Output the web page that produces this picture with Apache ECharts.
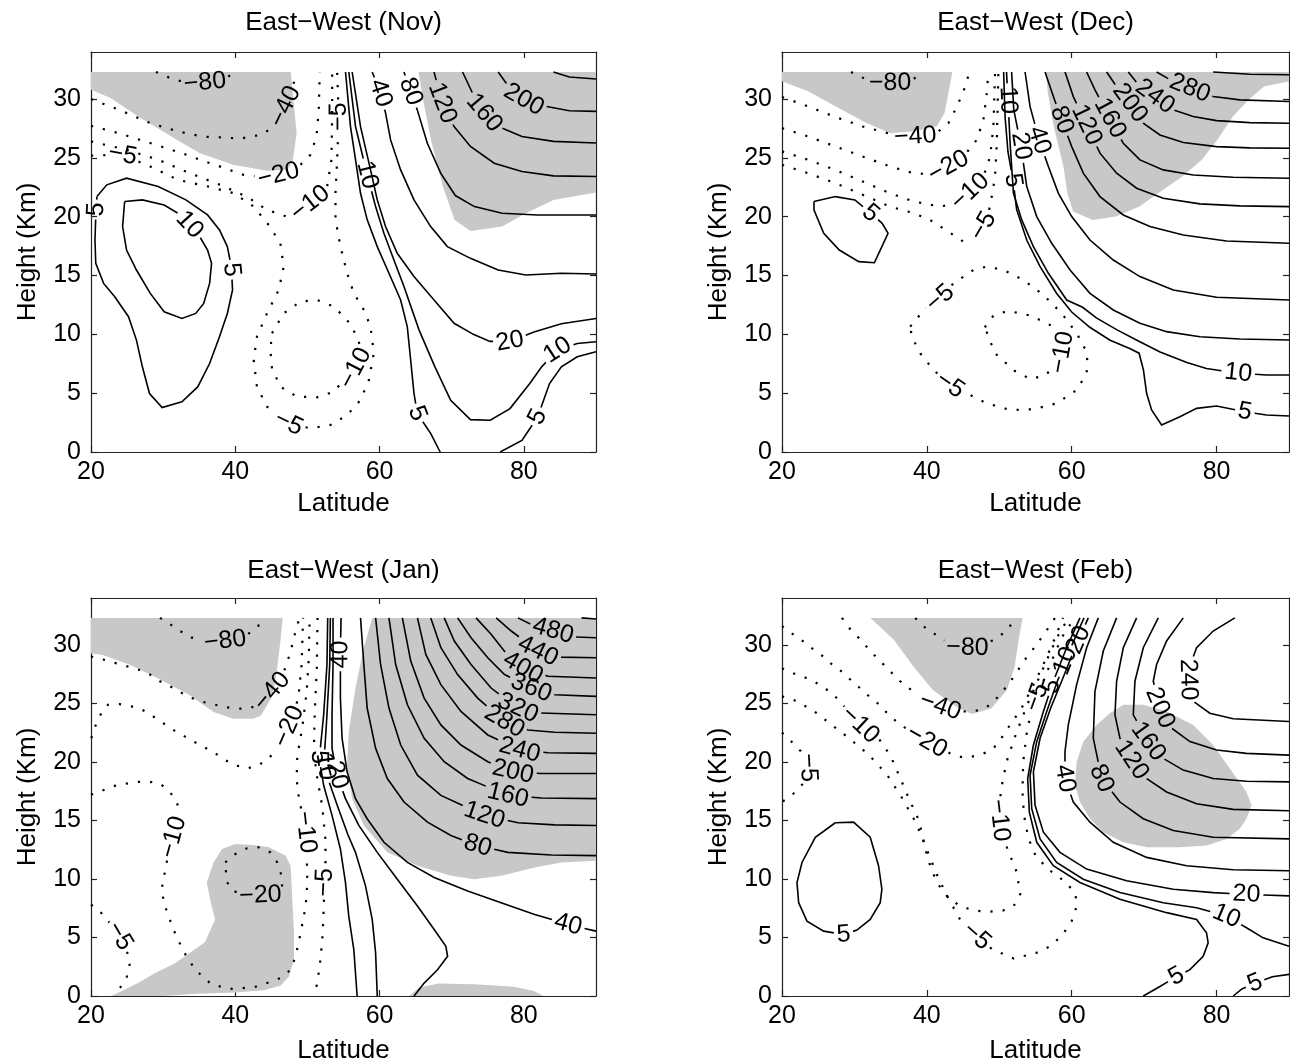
<!DOCTYPE html>
<html lang="en">
<head>
    <meta charset="UTF-8">
    <title>East-West wind</title>
    <script src="https://cdn.jsdelivr.net/npm/echarts@6/dist/echarts.min.js"></script>
    <style>
        body { margin: 0; background: #fff; }
    </style>
</head>
<body>
<div id="main" style="width: 1290px;height:1064px;"></div>
<script>
    // ---- axes ----
    const latTicks = [20, 40, 60, 80];
    const heightTicks = [0, 5, 10, 15, 20, 25, 30];
    const titles = ['East−West (Nov)', 'East−West (Dec)', 'East−West (Jan)', 'East−West (Feb)'];

    // ---- November ----
    const novShade = [
        [[20,32.3],[47.7,32.3],[48.05,29.95],[48.5,27.1],[48.05,25.1],[47.9,24.6],[47.2,24.0],[44.4,23.9],[39.8,24.4],[35.1,25.4],[32.0,26.5],[26.6,28.5],[22.7,30.1],[20,30.8]],
        [[65.4,32.3],[90,32.3],[90,22.05],[84.1,21.43],[80.27,20.3],[76.99,19.16],[72.6,18.79],[70.4,19.73],[68.77,22.57],[67.12,26.54],[66.03,29.95]]
    ];
    const novLevels = [5, 10, 5, 10, 20, 40, 80, 120, 160, 200, 240, 5, -80, -40, -20, -10, -5, -10];
    const novLines = [
        [[20.82,21.71],[22.19,22.71],[24.93,23.28],[29.32,22.57],[33.15,21.43],[36.16,20.15],[37.81,18.88],[38.9,17.46],[39.45,15.75],[39.62,13.77],[38.9,11.78],[37.81,9.79],[36.44,7.52],[34.79,5.53],[32.6,4.26],[29.86,3.78],[28.11,4.97],[27.12,7.24],[26.3,9.51],[25.2,11.5],[23.29,13.2],[21.75,14.33],[20.66,16.04],[20.55,18.02],[20.66,20.01],[20.82,21.71]],
        [[24.66,21.29],[27.12,21.43],[30.14,21.0],[32.05,20.3],[34.79,18.59],[36.16,17.17],[36.71,16.04],[36.44,14.33],[35.62,12.63],[34.52,11.78],[32.6,11.35],[30.14,11.92],[28.22,13.48],[26.3,15.47],[24.93,17.17],[24.38,19.16],[24.66,21.29]],
        [[55.28,32.3],[55.97,27.66],[56.67,24.83],[57.36,21.99],[58.29,19.73],[59.68,17.46],[61.3,15.19],[62.92,12.92],[63.84,10.66],[64.31,7.82],[64.77,4.99],[65.23,3.28],[67.08,1.58],[68.4,0]],
        [[55.74,32.3],[56.67,27.66],[58.29,23.55],[59.45,20.86],[60.6,18.59],[61.99,16.32],[63.38,14.06],[65.48,10.36],[67.67,7.24],[69.86,4.4],[72.6,2.75],[75.34,2.7],[78.08,3.69],[80.82,5.82],[82.47,7.24],[84.66,8.66],[87.4,9.22],[90,9.37]],
        [[56.2,32.3],[57.36,27.66],[58.75,23.98],[59.68,21.43],[60.83,19.16],[62.45,16.89],[64.77,14.91],[67.55,12.92],[70.33,10.94],[73.0,10.0],[75.3,9.4],[78.1,9.4],[81.4,10.2],[85.2,10.9],[90,11.35]],
        [[58.98,32.3],[60.14,30.5],[60.83,28.8],[61.53,26.53],[62.92,23.98],[64.77,21.43],[67.08,19.16],[69.4,17.46],[72.6,16.46],[76.44,15.47],[80.27,15.04],[85.2,15.19],[90,15.13]],
        [[63.38,32.3],[64.31,30.64],[65.23,29.08],[66.62,26.24],[68.47,23.7],[70.5,21.8],[73.15,20.86],[76.99,20.3],[81.92,20.15],[90,20.15]],
        [[67.55,32.3],[68.7,29.65],[70.33,27.66],[72.6,25.97],[75.89,24.55],[79.73,23.84],[84.1,23.47],[90,23.42]],
        [[71.5,32.3],[72.88,30.51],[74.52,28.81],[76.44,27.68],[79.73,26.82],[84.1,26.4],[90,26.26]],
        [[76.44,32.3],[77.53,31.37],[80.0,29.95],[83.0,29.38],[86.3,29.0],[90,28.95]],
        [[84.1,32.3],[86.3,31.88],[90,31.7]],
        [[76.71,0],[79.73,0.99],[81.92,2.98],[83.56,5.82],[85.2,7.24],[87.4,8.09],[90,8.52]],
        [[29.0,32.3],[31.5,31.65],[33.5,31.4],[35.8,31.4],[38.0,31.6],[40.27,32.3]],
        [[20,30.0],[23.84,29.1],[28.2,27.96],[32.05,27.25],[35.5,26.8],[37.92,26.75],[40.7,26.64],[43.47,26.95],[45.09,27.52],[46.2,28.4],[46.95,29.36],[47.87,30.78],[48.47,32.3]],
        [[20,27.73],[23.84,27.1],[28.2,26.26],[32.6,25.4],[35.3,24.8],[37.92,24.26],[41.16,23.55],[43.5,23.4],[46.0,23.55],[49.0,24.4],[50.4,25.25],[51.25,26.8],[51.57,29.08],[51.71,32.3]],
        [[20,26.4],[24.93,25.69],[29.32,24.84],[33.7,23.7],[37.92,22.7],[41.62,21.7],[44.4,20.58],[47.18,20.0],[49.0,20.4],[50.4,21.14],[51.8,21.9],[52.73,22.56],[53.33,24.83],[53.43,29.08],[53.43,32.3]],
        [[20,25.2],[24.38,25.26],[28.2,24.27],[32.05,23.13],[36.0,22.6],[39.77,22.0],[42.55,20.86],[44.63,19.3],[46.25,17.74],[46.71,15.76],[46.02,13.77],[44.4,11.79],[43.0,9.8],[42.55,7.82],[43.0,5.55],[44.4,3.85],[47.41,2.44],[50.42,2.01],[53.2,2.3],[55.51,3.14],[57.36,4.42],[58.52,6.12],[59.2,8.38],[58.75,10.66],[57.83,12.07],[56.44,13.49],[55.51,15.19],[54.58,17.46],[53.89,19.73],[53.89,21.99],[54.12,24.83],[54.35,28.51],[54.12,32.3]],
        [[45.09,10.09],[46.71,11.79],[49.03,12.78],[51.34,12.92],[53.66,12.36],[55.51,11.22],[56.9,9.8],[57.59,8.39],[56.5,6.9],[55.05,6.12],[53.66,5.13],[51.34,4.65],[48.57,4.7],[46.25,5.55],[45.09,7.11],[44.86,8.67],[45.09,10.09]]
    ];
    const novLabels = [
        ['−80',35.8,31.4],['−40',46.95,29.36],['−20',46.0,23.55],['−10',50.4,21.14],['−5',54.35,28.5],['−5',24.38,25.26],
        ['−5',47.41,2.44],['−10',56.4,7.2],['5',21.0,20.6],['5',39.6,15.5],['10',33.42,19.16],['10',58.29,23.55],['5',65.23,3.28],
        ['40',60.14,30.5],['80',64.31,30.64],['120',68.7,29.65],['160',74.52,28.81],['200',80.0,29.95],
        ['20',78.08,9.45],['10',84.66,8.66],['5',81.92,2.98]
    ];

    // ---- December ----
    const decShade = [
        [[20,32.3],[43.52,32.3],[42.98,30.51],[42.44,28.81],[41.37,27.68],[38.14,27.25],[34.9,27.11],[31.68,27.96],[27.37,29.38],[23.6,30.66],[20,31.51]],
        [[56.44,32.3],[90,32.3],[90,31.5],[86.58,31.08],[84.42,29.95],[82.27,28.53],[80.12,26.54],[77.97,24.84],[75.27,23.42],[72.58,22.28],[69.35,20.86],[66.12,20.01],[62.9,19.73],[60.2,20.44],[59.4,22.0],[58.86,24.27],[57.51,27.68],[56.71,30.51]]
    ];
    const decLevels = [5, 5, 10, 20, 40, 80, 120, 160, 200, 240, 280, 320, -80, -40, -20, -10, -5, -5, -10];
    const decLines = [
        [[24.41,21.29],[27.37,21.71],[30.06,21.43],[32.22,20.3],[33.83,19.44],[34.64,18.59],[32.76,16.09],[30.6,16.18],[27.91,17.17],[25.76,18.59],[24.41,20.58],[24.41,21.29]],
        [[50.6,32.3],[50.8,28.5],[51.2,25.5],[51.9,23.1],[52.4,20.6],[53.8,18.0],[55.6,15.8],[57.9,13.5],[60.0,11.9],[62.5,10.6],[65.3,9.5],[68.0,8.8],[69.3,8.4],[69.9,6.97],[70.34,4.99],[71.03,3.57],[72.41,2.3],[74.94,3.0],[77.24,3.71],[80.0,3.91],[83.9,3.43],[86.89,3.14],[90,3.06]],
        [[51.0,32.3],[51.2,29.9],[51.5,26.2],[51.95,22.0],[53.1,19.73],[54.71,17.46],[56.78,15.19],[59.31,12.92],[61.5,12.3],[63.4,11.4],[66.2,10.4],[69.0,9.5],[72.2,8.5],[75.9,7.6],[78.6,7.1],[83.0,6.7],[86.9,6.55],[90,6.55]],
        [[51.7,32.3],[52.0,29.1],[53.0,26.0],[53.79,22.56],[55.17,20.01],[57.24,17.74],[59.77,15.47],[62.52,13.49],[65.74,12.07],[69.42,10.94],[73.1,10.23],[77.7,9.8],[83.21,9.61],[90,9.52]],
        [[53.56,32.3],[54.25,29.36],[55.5,26.53],[56.78,24.26],[58.16,21.99],[60.0,20.01],[62.52,18.02],[65.74,16.32],[69.42,14.91],[74.02,13.77],[80.0,13.15],[90,12.92]],
        [[56.32,32.3],[57.47,30.21],[58.62,28.23],[60.0,25.96],[61.6,23.7],[63.9,21.71],[67.12,20.15],[70.8,19.16],[75.4,18.45],[81.37,17.94],[90,17.74]],
        [[59.08,32.3],[60.22,30.21],[62.06,27.8],[63.9,25.4],[66.2,23.7],[68.96,22.42],[72.64,21.57],[77.7,21.09],[83.21,20.92],[90,20.86]],
        [[62.06,32.3],[63.21,30.78],[65.28,28.37],[67.12,26.24],[69.42,24.83],[72.64,23.98],[76.78,23.55],[82.29,23.35],[90,23.27]],
        [[64.82,32.3],[66.2,31.06],[68.04,29.65],[69.88,27.95],[72.18,26.95],[75.4,26.3],[80.0,25.96],[84.59,25.85],[90,25.82]],
        [[67.81,32.3],[69.42,31.06],[71.49,30.21],[74.02,29.08],[76.78,28.51],[79.99,28.17],[84.59,28.0],[90,27.95]],
        [[71.72,32.3],[74.0,31.5],[76.32,30.92],[79.53,30.21],[83.21,29.93],[90,29.79]],
        [[79.53,32.3],[84.6,32.11],[90,32.06]],
        [[29.53,32.3],[31.68,31.65],[34.91,31.37],[38.14,31.7],[39.48,32.3]],
        [[20,30.17],[23.6,29.38],[27.37,28.47],[31.14,27.67],[34.91,27.05],[38.41,26.82],[41.5,27.2],[42.98,27.96],[44.17,29.38],[45.13,30.8],[45.9,32.3]],
        [[20,27.53],[23.6,26.82],[27.37,25.97],[31.14,25.12],[34.91,24.27],[38.14,23.7],[40.8,23.6],[43.0,24.26],[45.05,25.11],[46.89,26.53],[47.81,28.23],[48.27,30.5],[48.5,32.3]],
        [[20,25.55],[23.6,24.84],[27.37,23.98],[31.14,22.99],[34.91,22.0],[38.15,21.3],[41.84,20.86],[44.13,21.14],[45.97,22.13],[47.81,23.41],[48.73,25.11],[49.19,27.66],[49.42,32.3]],
        [[20,24.41],[23.6,23.7],[27.37,22.85],[31.14,21.86],[34.91,20.86],[38.2,20.3],[40.5,19.7],[42.8,18.8],[45.0,17.9],[46.6,18.2],[47.8,19.2],[48.73,20.86],[49.42,23.41],[49.65,26.24],[49.88,32.3]],
        [[37.7,10.66],[40.0,12.36],[41.84,13.07],[43.67,14.34],[46.43,15.47],[48.27,15.76],[50.57,15.47],[53.33,14.62],[56.09,13.35],[58.62,11.79],[60.69,10.09],[62.16,8.39],[62.07,6.69],[60.69,5.27],[57.93,4.14],[54.71,3.63],[51.49,3.57],[48.27,4.14],[45.51,4.99],[43.22,5.69],[40.92,6.97],[39.08,8.39],[37.93,9.8],[37.7,10.66]],
        [[48.0,10.6],[49.2,11.6],[51.2,12.0],[54.3,11.6],[57.0,10.8],[58.7,9.8],[58.8,8.6],[58.0,7.5],[56.3,6.5],[54.3,6.2],[52.1,6.9],[49.4,8.4],[48.0,10.6]]
    ];
    const decLabels = [
        ['−80',34.91,31.37],['−40',38.4,26.82],['−20',43.0,24.26],['−10',45.97,22.13],['−5',47.8,19.2],['5',32.22,20.3],
        ['−5',41.84,13.07],['−5',43.22,5.69],['−10',58.6,8.5],['10',51.2,29.9],['20',53.0,26.0],['40',55.5,26.5],['5',51.9,23.1],
        ['80',58.62,28.23],['120',62.06,27.8],['160',65.28,28.37],['200',68.04,29.65],['240',71.49,30.21],['280',76.32,30.92],
        ['10',82.98,6.69],['5',83.9,3.43]
    ];

    // ---- January ----
    const janShade = [
        [[20,32.3],[46.58,32.3],[46.3,30.58],[45.75,27.71],[45.2,25.7],[43.56,23.97],[42.47,23.69],[39.73,23.69],[36.99,24.26],[33.7,25.7],[29.32,27.13],[25.48,28.28],[21.64,29.14],[20,29.29]],
        [[58.98,32.3],[90,32.3],[90,11.56],[85.21,11.41],[81.5,10.98],[76.86,10.27],[73.14,9.98],[69.89,10.27],[65.25,11.13],[61.07,12.27],[57.82,14.57],[56.2,16.86],[55.5,19.72],[55.73,22.59],[56.66,26.31],[57.82,29.75]],
        [[22.74,0],[24.2,0.4],[26.5,1.1],[28.9,1.96],[31.65,2.8],[33.5,3.6],[35.8,4.6],[37.2,6.54],[36.5,8.26],[36.06,9.69],[36.99,11.41],[38.15,12.56],[40.0,12.99],[42.5,12.9],[44.65,12.7],[46.97,11.99],[47.67,11.13],[47.9,8.26],[48.13,5.4],[48.13,3.1],[47.44,1.67],[46.3,0.9],[44.0,0.5],[40.0,0.3],[35,0.2],[30,0]],
        [[64.11,0],[65.48,0.72],[68.22,1.06],[73.15,1.0],[78.63,0.78],[81.37,0.43],[82.74,0]]
    ];
    const janLevels = [5, 10, 20, 40, 80, 120, 160, 200, 240, 280, 320, 360, 400, 440, 480, 520, -80, -40, -20, -10, -5, -5, -20];
    const janLines = [
        [[52.81,32.3],[52.71,28.32],[52.25,24.02],[51.79,21.16],[51.6,20.4],[52.25,18.0],[53.41,15.43],[54.57,12.56],[55.27,9.7],[55.73,6.83],[56.43,3.96],[56.89,0]],
        [[53.18,32.3],[53.09,28.32],[52.71,24.02],[52.4,21.0],[52.34,20.0],[53.0,18.3],[54.3,16.0],[55.6,13.8],[56.66,12.27],[58.05,9.41],[58.98,6.54],[59.45,3.68],[59.68,0]],
        [[53.55,32.3],[53.55,28.32],[53.41,24.02],[53.41,21.16],[54.1,18.86],[55.27,16.86],[57.12,14.57],[59.68,12.27],[62.46,9.98],[65.25,7.69],[67.57,5.68],[69.19,4.25],[69.43,3.39],[68.03,2.24],[66.18,1.1],[64.78,0]],
        [[54.66,32.3],[54.57,29.18],[54.57,25.45],[54.8,22.02],[55.5,19.15],[56.66,16.86],[58.28,15.14],[60.61,13.13],[63.86,11.41],[67.57,10.12],[72.21,8.98],[76.85,7.97],[81.5,6.97],[86.14,6.11],[90,5.54]],
        [[57.36,32.3],[57.82,28.32],[58.28,24.6],[59.45,21.16],[61.07,18.58],[63.39,16.57],[66.64,14.85],[69.89,13.71],[73.6,12.85],[77.78,12.27],[83.82,12.04],[90,11.99]],
        [[59.45,32.3],[60.14,28.32],[61.3,24.6],[62.93,21.44],[65.25,18.86],[68.5,17.14],[74.53,15.43],[79.18,14.8],[84.28,14.62],[90,14.57]],
        [[61.3,32.3],[62.23,28.32],[63.86,24.88],[66.18,22.02],[68.96,20.01],[72.21,18.58],[77.78,17.14],[82.43,16.91],[90,16.86]],
        [[63.16,32.3],[64.32,28.61],[66.18,25.45],[68.5,23.16],[71.28,21.44],[75.0,20.01],[78.48,19.15],[82.43,19.01],[90,19.01]],
        [[65.25,32.3],[66.41,29.18],[68.5,26.6],[71.28,24.31],[75.0,22.3],[79.41,21.01],[83.35,20.78],[90,20.73]],
        [[67.1,32.3],[68.5,29.75],[70.82,27.46],[73.6,25.45],[77.32,23.45],[80.57,22.73],[84.28,22.53],[90,22.45]],
        [[68.96,32.3],[70.36,30.32],[72.68,28.32],[75.46,26.31],[79.18,24.6],[82.43,24.17],[90,24.02]],
        [[70.82,32.3],[72.68,30.61],[75.0,28.89],[77.32,27.46],[81.03,26.31],[84.28,25.74],[90,25.6]],
        [[73.37,32.3],[75.46,30.9],[77.5,29.3],[79.87,28.03],[83.35,27.32],[90,27.17]],
        [[76.16,32.3],[78.25,31.18],[81.96,29.47],[85.21,28.95],[90,28.89]],
        [[79.18,32.3],[81.5,31.6],[84.05,31.19],[87.07,30.67],[90,30.61]],
        [[88.0,32.3],[90,32.2]],
        [[29.56,32.3],[30.95,31.76],[32.35,31.18],[33.97,30.61],[36.0,30.35],[38.61,30.33],[41.4,30.76],[43.02,31.47],[43.95,32.3]],
        [[20,29.0],[21.67,28.75],[23.29,28.46],[24.92,28.18],[26.54,27.89],[28.17,27.46],[29.56,26.89],[30.95,26.46],[32.58,25.88],[33.97,25.45],[35.6,25.11],[37.22,24.88],[38.85,24.65],[40.47,24.54],[42.1,24.6],[43.8,25.1],[45.11,26.03],[46.97,28.03],[47.67,29.47],[48.36,31.18],[48.9,32.3]],
        [[20.04,22.02],[20.74,23.3],[21.67,24.45],[22.37,24.88],[23.99,24.94],[25.62,24.74],[27.24,24.4],[28.63,23.88],[30.03,23.3],[31.42,22.73],[33.04,22.16],[34.44,21.67],[35.83,21.21],[37.22,20.73],[38.61,20.15],[40.01,19.72],[41.63,19.44],[43.26,19.72],[44.65,20.3],[46.2,21.5],[47.44,23.02],[48.74,25.45],[49.2,28.32],[49.4,32.3]],
        [[20,17.2],[21.67,17.57],[23.29,17.95],[24.92,18.15],[26.54,18.29],[28.17,18.29],[29.56,18.15],[30.95,17.43],[31.88,16.57],[32.35,15.57],[31.42,13.56],[30.49,11.41],[29.79,9.12],[30.17,7.83],[31.42,5.68],[32.81,3.82],[34.44,2.24],[36.76,0.96],[39.77,0.58],[43.02,0.81],[46.27,1.53],[47.67,2.24],[48.36,3.39],[49.06,5.4],[49.76,7.69],[49.99,9.69],[49.9,12.0],[49.76,13.99],[49.3,15.5],[48.83,16.86],[48.5,18.5],[48.6,20.5],[49.3,23.0],[49.9,26.0],[50.2,29.0],[50.3,32.3]],
        [[51.4,32.3],[51.3,28.0],[51.0,24.0],[50.9,21.0],[51.23,19.09],[52.05,16.22],[52.5,13.35],[52.5,11.0],[52.33,9.04],[52.2,6.5],[52.05,4.74],[51.7,2.5],[51.23,0.72],[51.1,0]],
        [[20,7.8],[21.2,7.26],[22.37,6.4],[23.99,5.11],[25.15,3.53],[25.38,2.53],[24.92,1.53],[23.99,0.67],[23.53,0]],
        [[38.61,11.41],[40.01,12.13],[41.63,12.62],[43.26,12.7],[44.88,12.27],[45.81,11.41],[46.41,10.27],[46.5,9.2],[45.8,8.5],[43.5,8.6],[41.0,8.7],[39.6,9.0],[38.8,9.8],[38.61,11.41]]
    ];
    const janLabels = [
        ['−80',38.61,30.33],['−40',45.11,26.03],['−20',47.44,23.02],['−10',31.42,13.56],['−10',49.76,13.99],['−5',52.5,9.7],
        ['−20',43.49,8.6],['−5',23.99,5.11],['5',51.6,20.4],['10',52.3,19.6],['20',54.1,18.86],['40',54.57,29.18],['40',86.14,6.11],
        ['80',73.6,12.85],['120',74.53,15.43],['160',77.78,17.14],['200',78.48,19.15],['240',79.41,21.01],['280',77.32,23.45],
        ['320',79.18,24.6],['360',81.03,26.31],['400',79.87,28.03],['440',81.96,29.47],['480',84.05,31.19]
    ];

    // ---- February ----
    const febShade = [
        [[32.22,32.3],[53.21,32.3],[52.67,30.43],[52.13,28.14],[51.06,26.14],[48.9,24.57],[46.21,24.09],[44.06,24.71],[40.83,26.14],[38.14,28.14],[35.45,30.43]],
        [[67.12,24.88],[69.88,24.88],[73.1,24.31],[76.78,23.16],[79.53,21.44],[81.83,19.44],[84.13,17.43],[84.82,16.29],[84.13,15.14],[83.21,14.28],[81.37,13.42],[78.61,12.85],[74.94,12.7],[70.34,12.7],[67.12,13.13],[64.36,13.99],[62.52,15.14],[61.14,16.57],[60.45,18.0],[60.68,20.01],[61.6,21.73],[63.44,23.16],[65.28,24.16]]
    ];
    const febLevels = [5, 5, 10, 20, 40, 80, 120, 160, 200, 240, 5, -80, -40, -20, -10, -5, -5];
    const febLines = [
        [[27.36,14.8],[29.88,14.85],[32.18,13.56],[33.33,11.13],[33.79,9.12],[33.56,7.97],[32.18,6.54],[30.34,5.63],[28.51,5.25],[25.75,5.54],[23.45,6.4],[22.3,7.97],[22.07,9.69],[22.76,11.41],[24.6,13.56],[27.36,14.8]],
        [[61.14,32.3],[59.3,29.75],[57.46,26.89],[56.09,24.31],[54.71,21.44],[53.92,18.58],[54.15,15.71],[55.17,13.13],[57.46,11.13],[61.14,9.7],[66.66,8.26],[73.1,7.12],[77.24,6.54],[78.61,5.4],[78.84,4.54],[78.15,3.39],[76.32,2.25],[74.48,1.67],[72.18,0.81],[69.88,0]],
        [[61.7,32.3],[59.86,29.75],[58.02,26.89],[56.55,24.31],[55.17,21.73],[54.25,18.86],[54.48,16.0],[55.63,13.42],[57.92,11.41],[61.6,9.98],[66.66,8.84],[72.64,7.97],[77.24,7.54],[81.37,6.83],[84.13,5.83],[86.43,4.97],[90,4.25]],
        [[62.29,32.3],[60.45,29.75],[58.61,26.89],[57.1,24.6],[55.63,22.02],[54.71,19.15],[54.94,16.29],[56.09,13.99],[58.38,12.27],[62.06,10.84],[67.58,9.84],[74.02,9.12],[79.53,8.83],[84.13,8.69],[90,8.55]],
        [[63.67,32.3],[62.06,29.75],[60.68,26.6],[59.53,23.16],[59.07,20.87],[59.07,18.58],[60.22,16.57],[62.52,14.85],[65.74,13.13],[70.34,11.84],[75.86,11.13],[82.29,10.78],[90,10.7]],
        [[66.2,32.3],[64.36,29.47],[63.21,26.03],[62.98,22.02],[64.13,18.58],[66.66,16.57],[69.88,15.14],[74.02,14.14],[79.53,13.56],[90,13.42]],
        [[68.96,32.3],[67.12,29.75],[66.2,26.89],[65.97,24.02],[66.66,22.02],[68.27,20.15],[70.34,18.58],[73.1,17.43],[77.24,16.43],[82.29,15.94],[90,15.83]],
        [[71.95,32.3],[69.88,29.75],[68.73,26.89],[68.5,24.02],[70.57,21.73],[72.64,20.3],[75.4,19.3],[79.53,18.58],[84.13,18.35],[90,18.29]],
        [[75.4,32.3],[73.1,30.33],[71.72,28.32],[71.26,26.89],[72.18,24.6],[73.79,22.88],[76.32,21.73],[80.0,21.01],[84.13,20.73],[90,20.58]],
        [[82.52,32.3],[79.53,31.18],[77.24,29.75],[76.2,28.0],[76.09,27.03],[76.4,25.9],[76.78,25.17],[79.07,24.16],[82.29,23.68],[90,23.45]],
        [[82.3,0],[83.5,0.6],[85.3,1.1],[87.7,1.65],[90,1.85]],
        [[38.4,32.3],[39.5,31.6],[40.9,31.0],[42.4,30.4],[45.6,29.75],[49.3,30.4],[51.0,31.2],[52.3,32.3]],
        [[28.28,32.3],[29.42,31.33],[30.57,30.61],[31.72,29.81],[32.87,29.04],[34.02,28.32],[35.17,27.6],[36.32,26.89],[37.47,26.31],[39.5,25.4],[41.84,24.74],[44.0,24.3],[45.98,24.31],[47.59,24.45],[48.74,24.88],[50.11,25.74],[51.8,27.1],[53.5,28.7],[55.0,29.9],[56.5,31.2],[57.7,32.3]],
        [[20,31.6],[21.84,30.75],[23.22,30.18],[24.6,29.47],[25.98,28.89],[27.13,28.18],[28.51,27.6],[29.66,26.89],[31.03,26.17],[32.18,25.51],[33.56,24.83],[34.71,24.02],[36.09,23.3],[38.0,22.5],[40.0,21.73],[43.68,20.58],[45.29,20.35],[46.9,20.53],[48.51,20.87],[49.66,21.44],[50.57,22.3],[51.49,23.16],[53.0,24.5],[54.5,26.3],[56.0,28.2],[57.5,30.3],[58.8,32.3]],
        [[20,28.0],[21.38,27.6],[22.99,27.26],[24.37,26.89],[25.75,26.37],[27.13,25.74],[28.8,24.6],[30.8,23.16],[33.33,22.02],[35.0,20.5],[36.4,18.5],[37.7,16.6],[38.62,15.43],[39.31,13.99],[39.77,12.56],[40.46,11.13],[41.38,9.69],[42.76,8.55],[44.5,7.7],[46.5,7.3],[48.5,7.2],[50.5,7.3],[52.0,7.7],[52.9,8.7],[52.4,10.6],[51.1,12.6],[50.0,15.0],[50.2,17.5],[51.0,20.0],[52.2,22.2],[53.8,24.8],[55.5,27.2],[57.2,29.6],[58.6,31.4],[59.7,32.3]],
        [[20,25.6],[22.0,25.2],[24.5,24.3],[27.0,23.1],[29.5,21.9],[32.0,20.6],[34.5,18.9],[36.5,17.0],[38.5,14.8],[40.0,12.5],[41.5,10.2],[43.0,8.3],[44.8,6.3],[46.9,5.1],[49.0,4.0],[52.0,3.2],[55.2,3.7],[57.2,4.3],[58.8,5.3],[60.0,6.4],[60.7,7.7],[60.5,8.8],[59.0,9.8],[56.8,10.8],[55.0,12.0],[54.0,13.5],[53.4,15.5],[53.2,17.5],[53.3,20.0],[53.9,23.0],[55.0,25.2],[56.8,28.0],[58.6,30.6],[60.4,32.3]],
        [[20,22.5],[21.2,21.8],[22.6,20.9],[23.6,19.5],[23.0,18.2],[21.8,17.4],[20.6,16.8],[20,16.6]]
    ];
    const febLabels = [
        ['−80',45.6,29.75],['−40',41.84,24.74],['−20',40.0,21.73],['−10',30.8,23.16],['−10',50.0,15.0],['−5',23.6,19.5],
        ['−5',46.9,5.1],['−5',55.3,25.5],['5',28.51,5.25],['5',57.0,26.5],['10',58.6,28.75],['20',60.68,30.47],
        ['40',59.07,18.58],['80',64.13,18.58],['120',68.27,20.15],['160',70.57,21.73],['200',72.18,24.6],['240',76.09,27.03],
        ['20',84.13,8.69],['10',81.37,6.83],['5',74.48,1.67],['5',85.3,1.1]
    ];

    // ---- layout / style ----
    const FONT = 'Liberation Sans';
    const SHADE = '#c8c8c8';
    const boxes = [[91, 52, 505, 400], [782, 52, 507, 400], [91, 598, 505, 398], [782, 598, 507, 398]];
    const titleTop = [10, 10, 558, 558];
    const nameGapX = [39, 39, 42, 42];

    const measureCtx = document.createElement('canvas').getContext('2d');
    measureCtx.font = '25px "' + FONT + '"';

    function cumLen(pl) {
        const c = [0];
        for (let i = 1; i < pl.length; i++) {
            c.push(c[i - 1] + Math.hypot(pl[i][0] - pl[i - 1][0], pl[i][1] - pl[i - 1][1]));
        }
        return c;
    }

    function pointAt(pl, c, s) {
        const L = c[c.length - 1];
        if (s <= 0) return pl[0].slice();
        if (s >= L) return pl[pl.length - 1].slice();
        let i = 1;
        while (c[i] < s) i++;
        const t = (s - c[i - 1]) / ((c[i] - c[i - 1]) || 1);
        return [pl[i - 1][0] + t * (pl[i][0] - pl[i - 1][0]), pl[i - 1][1] + t * (pl[i][1] - pl[i - 1][1])];
    }

    function pieces(pl, c, gaps) {
        const L = c[c.length - 1];
        gaps.sort((a, b) => a[0] - b[0]);
        const keep = [];
        let s = 0;
        gaps.forEach(g => {
            if (g[0] > s) keep.push([s, g[0]]);
            s = Math.max(s, g[1]);
        });
        if (s < L) keep.push([s, L]);
        return keep.map(([a, b]) => {
            const pts = [pointAt(pl, c, a)];
            for (let i = 0; i < pl.length; i++) {
                if (c[i] > a && c[i] < b) pts.push(pl[i]);
            }
            pts.push(pointAt(pl, c, b));
            return pts;
        });
    }

    function contourSeries(idx, shade, lines, levels, labels) {
        return {
            type: 'custom',
            xAxisIndex: idx * 2,
            yAxisIndex: idx * 2,
            silent: true,
            clip: false,
            data: [[20, 0]],
            renderItem: function (params, api) {
                const children = [];
                shade.forEach(poly => {
                    children.push({
                        type: 'polygon',
                        shape: {points: poly.map(p => api.coord(p))},
                        style: {fill: SHADE}
                    });
                });
                const px = lines.map(l => l.map(p => api.coord(p)));
                const cum = px.map(cumLen);
                const gaps = px.map(() => []);
                const texts = [];
                labels.forEach(lb => {
                    const lv = Number(lb[0].replace('−', '-'));
                    const pt = api.coord([lb[1], lb[2]]);
                    let best = null;
                    px.forEach((pl, i) => {
                        if (levels[i] !== lv) return;
                        for (let k = 0; k < pl.length - 1; k++) {
                            const ax = pl[k][0], ay = pl[k][1];
                            const dx = pl[k + 1][0] - ax, dy = pl[k + 1][1] - ay;
                            const len2 = dx * dx + dy * dy || 1;
                            let t = ((pt[0] - ax) * dx + (pt[1] - ay) * dy) / len2;
                            t = Math.max(0, Math.min(1, t));
                            const qx = ax + t * dx, qy = ay + t * dy;
                            const d = Math.hypot(pt[0] - qx, pt[1] - qy);
                            if (!best || d < best.d) {
                                best = {d: d, i: i, s: cum[i][k] + t * Math.sqrt(len2)};
                            }
                        }
                    });
                    if (!best) return;
                    const half = measureCtx.measureText(lb[0]).width / 2 + 3;
                    gaps[best.i].push([best.s - half, best.s + half]);
                    const a = pointAt(px[best.i], cum[best.i], best.s - half);
                    const b = pointAt(px[best.i], cum[best.i], best.s + half);
                    let ang = Math.atan2(b[1] - a[1], b[0] - a[0]);
                    if (ang > Math.PI / 2) ang -= Math.PI;
                    if (ang < -Math.PI / 2) ang += Math.PI;
                    const c = pointAt(px[best.i], cum[best.i], best.s);
                    texts.push({
                        type: 'text',
                        x: c[0],
                        y: c[1],
                        rotation: -ang,
                        style: {
                            text: lb[0], fill: '#000', fontSize: 25, fontFamily: FONT,
                            align: 'center', verticalAlign: 'middle'
                        }
                    });
                });
                px.forEach((pl, i) => {
                    const dotted = levels[i] < 0;
                    pieces(pl, cum[i], gaps[i]).forEach(seg => {
                        children.push({
                            type: 'polyline',
                            shape: {points: seg},
                            style: dotted
                                ? {stroke: '#000', fill: null, lineWidth: 2.2, lineDash: [2.2, 10]}
                                : {stroke: '#000', fill: null, lineWidth: 1.6}
                        });
                    });
                });
                return {type: 'group', children: children.concat(texts)};
            }
        };
    }

    const textStyle = {color: '#000', fontFamily: FONT, fontSize: 25};
    const grids = [], xAxes = [], yAxes = [], titleOpts = [];
    boxes.forEach((b, i) => {
        grids.push({left: b[0], top: b[1], width: b[2], height: b[3], outerBoundsMode: 'none', containLabel: false});
        titleOpts.push({
            text: titles[i], left: b[0] + b[2] / 2, top: titleTop[i], textAlign: 'center', padding: 0,
            textStyle: {color: '#000', fontFamily: FONT, fontSize: 26, fontWeight: 'normal'}
        });
        const lineStyle = {color: '#222', width: 1.2};
        const tick = {inside: true, length: 6, lineStyle: lineStyle};
        xAxes.push({
            gridIndex: i, type: 'value', min: 20, max: 90, position: 'bottom',
            axisLine: {show: true, onZero: false, lineStyle: lineStyle},
            axisTick: Object.assign({customValues: latTicks}, tick),
            axisLabel: Object.assign({customValues: latTicks, margin: 8}, textStyle),
            splitLine: {show: false},
            name: 'Latitude', nameLocation: 'middle', nameGap: nameGapX[i], nameMoveOverlap: false,
            nameTextStyle: Object.assign({}, textStyle, {fontSize: 26})
        });
        xAxes.push({
            gridIndex: i, type: 'value', min: 20, max: 90, position: 'top',
            axisLine: {show: true, onZero: false, lineStyle: lineStyle},
            axisTick: Object.assign({customValues: latTicks}, tick),
            axisLabel: {show: false}, splitLine: {show: false}
        });
        yAxes.push({
            gridIndex: i, type: 'value', min: 0, max: 34, position: 'left',
            axisLine: {show: true, onZero: false, lineStyle: lineStyle},
            axisTick: Object.assign({customValues: heightTicks}, tick),
            axisLabel: Object.assign({customValues: heightTicks, margin: 10}, textStyle),
            splitLine: {show: false},
            name: 'Height (Km)', nameLocation: 'middle', nameGap: 50, nameRotate: 90, nameMoveOverlap: false,
            nameTextStyle: Object.assign({}, textStyle, {fontSize: 26})
        });
        yAxes.push({
            gridIndex: i, type: 'value', min: 0, max: 34, position: 'right',
            axisLine: {show: true, onZero: false, lineStyle: lineStyle},
            axisTick: Object.assign({customValues: heightTicks}, tick),
            axisLabel: {show: false}, splitLine: {show: false}
        });
    });

    const chart = echarts.init(document.getElementById('main'), null, {renderer: 'canvas'});
    chart.setOption({
        backgroundColor: '#fff',
        animation: false,
        title: titleOpts,
        grid: grids,
        xAxis: xAxes,
        yAxis: yAxes,
        series: [
            contourSeries(0, novShade, novLines, novLevels, novLabels),
            contourSeries(1, decShade, decLines, decLevels, decLabels),
            contourSeries(2, janShade, janLines, janLevels, janLabels),
            contourSeries(3, febShade, febLines, febLevels, febLabels)
        ]
    });
</script>
</body>
</html>
